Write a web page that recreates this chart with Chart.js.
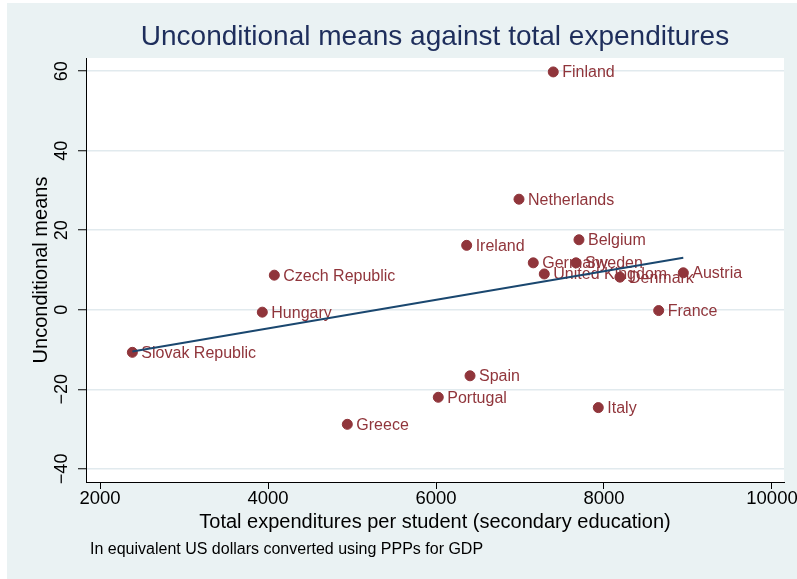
<!DOCTYPE html>
<html>
<head>
<meta charset="utf-8">
<title>Unconditional means against total expenditures</title>
<script src="https://cdn.jsdelivr.net/npm/chart.js@4.4.0/dist/chart.umd.min.js"></script>
<style>
  html, body { margin: 0; padding: 0; background: #fff; }
  canvas { display: block; }
</style>
</head>
<body>
<canvas id="chart" width="797" height="579"></canvas>
<script>
// countries, spending per secondary student (USD PPP) and unconditional means
const countries = ['Finland', 'Netherlands', 'Belgium', 'Ireland', 'Germany', 'Sweden',
  'United Kingdom', 'Denmark', 'Austria', 'Czech Republic', 'Hungary', 'Slovak Republic',
  'France', 'Spain', 'Portugal', 'Italy', 'Greece'];
const spending = [7396, 6988, 7702, 6365, 7158, 7667, 7289, 8190, 8944, 4075, 3932, 2385,
  8651, 6405, 6027, 7932, 4944];
const means = [59.8, 27.8, 17.6, 16.2, 11.8, 11.8, 9.0, 8.2, 9.3, 8.7, -0.6, -10.7,
  -0.2, -16.6, -22.0, -24.6, -28.8];

// fitted line endpoints
const fitX = [2385, 8944];
const fitY = [-10.5, 13.1];

const xTicks = [2000, 4000, 6000, 8000, 10000];
const yTicks = [-40, -20, 0, 20, 40, 60];

const FONT = "'Liberation Sans', Arial, Helvetica, sans-serif";
const BG = '#eaf2f3';
const MAROON = '#90353b';
const NAVY = '#1a476f';

const minus = v => String(v).replace('-', '\u2212');

const frame = {
  id: 'frame',
  beforeDraw(chart) {
    const { ctx, chartArea: a, width, height } = chart;
    ctx.save();
    ctx.fillStyle = '#ffffff';
    ctx.fillRect(0, 0, width, height);
    ctx.fillStyle = BG;
    ctx.fillRect(7, 3, width - 7, height - 3);
    ctx.fillStyle = '#ffffff';
    ctx.fillRect(a.left, a.top, a.right - a.left, a.bottom - a.top);
    ctx.restore();
  },
  afterDatasetDraw(chart, args) {
    if (args.index !== 0) return;
    const { ctx } = chart;
    ctx.save();
    ctx.font = '16px ' + FONT;
    ctx.fillStyle = MAROON;
    ctx.textAlign = 'left';
    ctx.textBaseline = 'middle';
    args.meta.data.forEach((pt, i) => {
      ctx.fillText(countries[i], pt.x + 9, pt.y + 1);
    });
    ctx.restore();
  },
  afterDraw(chart) {
    const { ctx, chartArea: a, scales } = chart;
    ctx.save();
    // y tick labels, turned sideways
    ctx.fillStyle = '#000';
    ctx.font = '18px ' + FONT;
    ctx.textAlign = 'center';
    ctx.textBaseline = 'middle';
    scales.y.ticks.forEach(t => {
      const y = scales.y.getPixelForValue(t.value);
      ctx.save();
      ctx.translate(62, y);
      ctx.rotate(-Math.PI / 2);
      ctx.fillText(minus(t.value), 0, 0);
      ctx.restore();
    });
    // axis titles
    ctx.font = '20px ' + FONT;
    ctx.save();
    ctx.translate(41, (a.top + a.bottom) / 2);
    ctx.rotate(-Math.PI / 2);
    ctx.fillText('Unconditional means', 0, 0);
    ctx.restore();
    ctx.fillText('Total expenditures per student (secondary education)', (a.left + a.right) / 2, 522);
    // note
    ctx.font = '16px ' + FONT;
    ctx.textAlign = 'left';
    ctx.fillText('In equivalent US dollars converted using PPPs for GDP', 90, 550);
    // title
    ctx.fillStyle = '#1e2e5c';
    ctx.font = '28px ' + FONT;
    ctx.textAlign = 'center';
    ctx.fillText('Unconditional means against total expenditures', (a.left + a.right) / 2, 37);
    ctx.restore();
  }
};

new Chart(document.getElementById('chart'), {
  type: 'scatter',
  data: {
    datasets: [{
      data: spending.map((x, i) => ({ x, y: means[i] })),
      backgroundColor: MAROON,
      borderColor: MAROON,
      pointRadius: 5,
      pointHoverRadius: 5,
      order: 1
    }, {
      type: 'line',
      data: fitX.map((x, i) => ({ x, y: fitY[i] })),
      borderColor: NAVY,
      borderWidth: 2,
      pointRadius: 0,
      fill: false,
      order: 0
    }]
  },
  plugins: [frame],
  options: {
    responsive: false,
    animation: false,
    events: [],
    layout: { padding: { left: 0, top: 58, right: 13, bottom: 0 } },
    plugins: { legend: { display: false }, title: { display: false }, tooltip: { enabled: false } },
    scales: {
      x: {
        type: 'linear',
        min: 1833,
        max: 10143,
        afterBuildTicks: s => { s.ticks = xTicks.map(value => ({ value })); },
        afterFit: s => { s.height = 97; s.paddingLeft = 0; s.paddingRight = 0; },
        ticks: {
          color: '#000',
          font: { family: FONT, size: 18.5 },
          padding: -1,
          maxRotation: 0,
          callback: v => String(v)
        },
        grid: { drawOnChartArea: false, drawTicks: true, tickLength: 7, tickColor: '#000', tickWidth: 1 },
        border: { display: true, color: '#000', width: 1 }
      },
      y: {
        type: 'linear',
        min: -43.3,
        max: 63.3,
        afterBuildTicks: s => { s.ticks = yTicks.map(value => ({ value })); },
        afterFit: s => { s.width = 86; s.paddingTop = 0; s.paddingBottom = 0; },
        ticks: { color: 'rgba(0,0,0,0)', font: { family: FONT, size: 18 } },
        grid: { color: '#e1eaee', lineWidth: 1.5, drawTicks: true, tickLength: 8, tickColor: '#000', tickWidth: 1 },
        border: { display: true, color: '#000', width: 1 }
      }
    }
  }
});
</script>
</body>
</html>
